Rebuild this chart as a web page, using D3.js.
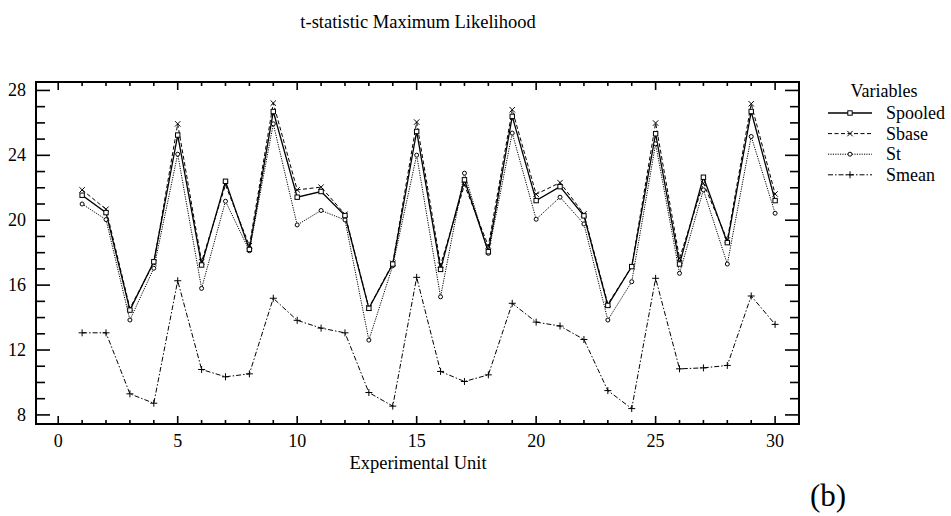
<!DOCTYPE html>
<html><head><meta charset="utf-8">
<script src="https://cdn.jsdelivr.net/npm/d3@7"></script>
<style>
html,body{margin:0;padding:0;background:#fff;}
</style></head>
<body><svg id="c" width="951" height="516"></svg>
<script>
const units = d3.range(1, 31);
const spooled = [21.54, 20.47, 14.46, 17.44, 25.25, 17.24, 22.4, 18.2, 26.7, 21.42, 21.77, 20.29, 14.57, 17.3, 25.47, 16.97, 22.49, 18.06, 26.4, 21.21, 22.07, 20.27, 14.75, 17.14, 25.33, 17.3, 22.65, 18.62, 26.7, 21.21];
const sbase = [21.87, 20.68, 14.57, 17.35, 25.94, 17.44, 22.18, 18.43, 27.22, 21.87, 22.04, 20.37, 14.6, 17.35, 26.05, 17.24, 22.18, 18.41, 26.81, 21.6, 22.32, 20.39, 14.83, 17.14, 25.99, 17.65, 22.28, 18.78, 27.18, 21.62];
const st = [21.0, 20.04, 13.85, 17.04, 24.07, 15.8, 21.17, 18.12, 25.94, 19.71, 20.6, 20.02, 12.61, 17.2, 24.01, 15.28, 22.9, 17.96, 25.37, 20.06, 21.42, 19.77, 13.85, 16.21, 24.71, 16.73, 21.87, 17.3, 25.16, 20.43];
const smean = [13.06, 13.06, 9.30, 8.72, 16.27, 10.8, 10.35, 10.53, 15.19, 13.83, 13.35, 13.06, 9.38, 8.54, 16.48, 10.68, 10.06, 10.47, 14.88, 13.72, 13.48, 12.65, 9.5, 8.39, 16.42, 10.84, 10.90, 11.05, 15.33, 13.58];
const seriesNames = ["Spooled", "Sbase", "St", "Smean"];
const xTicks = [0, 5, 10, 15, 20, 25, 30];
const yTicks = [8, 12, 16, 20, 24, 28];

const title = "t-statistic Maximum Likelihood";
const xLabel = "Experimental Unit";
const legendTitle = "Variables";
const panelLabel = "(b)";

// pick an installed serif font
const candidates = ["Liberation Serif", "Times New Roman", "Tinos", "Times", "DejaVu Serif", "Noto Serif"];
const ctx = document.createElement("canvas").getContext("2d");
function w(f) { ctx.font = "40px " + f; return ctx.measureText("Maximum Likelihood 0123").width; }
let FONT = "serif";
for (const c of candidates) {
  if (w(`"${c}", monospace`) !== w("monospace") || w(`"${c}", sans-serif`) !== w("sans-serif")) { FONT = `"${c}", serif`; break; }
}

const svg = d3.select("#c");
const L = 36, R = 799, T = 82, B = 424;
const x = d3.scaleLinear().domain([-0.93, 31.0]).range([L, R]);
const y = d3.scaleLinear().domain([7.44, 28.52]).range([B, T]);

const styles = {
  Spooled: {dash: null, w: 1.3, marker: "square"},
  Sbase: {dash: "4,2.5", w: 1, marker: "x"},
  St: {dash: "1.2,1.2", w: 1, marker: "circle"},
  Smean: {dash: "5,2,1.5,2", w: 1, marker: "plus"}
};
const data = {Spooled: spooled, Sbase: sbase, St: st, Smean: smean};

function drawMarker(g, type, cx, cy) {
  if (type === "square") {
    g.append("rect").attr("x", cx - 2.2).attr("y", cy - 2.2).attr("width", 4.4).attr("height", 4.4)
      .attr("fill", "#fff").attr("stroke", "#000").attr("stroke-width", 1);
  } else if (type === "x") {
    g.append("path").attr("d", `M${cx-2.7},${cy-2.7}L${cx+2.7},${cy+2.7}M${cx-2.7},${cy+2.7}L${cx+2.7},${cy-2.7}`)
      .attr("stroke", "#000").attr("stroke-width", 1);
  } else if (type === "circle") {
    g.append("circle").attr("cx", cx).attr("cy", cy).attr("r", 2)
      .attr("fill", "#fff").attr("stroke", "#000").attr("stroke-width", 1);
  } else if (type === "plus") {
    g.append("path").attr("d", `M${cx-3.5},${cy}L${cx+3.5},${cy}M${cx},${cy-3.5}L${cx},${cy+3.5}`)
      .attr("stroke", "#000").attr("stroke-width", 1);
  }
}

// series lines
const line = d3.line().x((d, i) => x(units[i])).y(d => y(d));
const gSeries = svg.append("g");
["Smean", "St", "Sbase", "Spooled"].forEach(name => {
  const s = styles[name];
  gSeries.append("path").attr("d", line(data[name])).attr("fill", "none")
    .attr("stroke", "#000").attr("stroke-width", s.w)
    .attr("stroke-dasharray", s.dash);
});
["Smean", "St", "Sbase", "Spooled"].forEach(name => {
  const g = gSeries.append("g");
  data[name].forEach((v, i) => drawMarker(g, styles[name].marker, x(units[i]), y(v)));
});

// frame
svg.append("rect").attr("x", L).attr("y", T).attr("width", R - L).attr("height", B - T)
  .attr("fill", "none").attr("stroke", "#000").attr("stroke-width", 2);

// ticks
const gT = svg.append("g").attr("stroke", "#000").attr("stroke-width", 1.6);
d3.range(0, 31).forEach(v => {
  const major = v % 5 === 0, len = major ? 8 : 4;
  gT.append("line").attr("x1", x(v)).attr("x2", x(v)).attr("y1", B).attr("y2", B - len);
  gT.append("line").attr("x1", x(v)).attr("x2", x(v)).attr("y1", T).attr("y2", T + len);
});
d3.range(8, 29).forEach(v => {
  const major = (v - 8) % 4 === 0, len = major ? 14 : 9;
  gT.append("line").attr("x1", L).attr("x2", L + len).attr("y1", y(v)).attr("y2", y(v));
  gT.append("line").attr("x1", R).attr("x2", R - len).attr("y1", y(v)).attr("y2", y(v));
});

function txt(xp, yp, s, size, anchor) {
  return svg.append("text").attr("x", xp).attr("y", yp).style("font-family", FONT)
    .attr("font-size", size).attr("text-anchor", anchor || "start").attr("fill", "#000").text(s);
}

// tick labels
xTicks.forEach(v => txt(x(v), 447, v, 18, "middle"));
yTicks.forEach(v => txt(26, y(v) + 6, v, 18, "end"));

// title & labels
txt(418, 28, title, 18.5, "middle");
txt(418, 469, xLabel, 18.5, "middle");
txt(828, 506, panelLabel, 31, "middle");

// legend
txt(884, 97, legendTitle, 18, "middle");
seriesNames.forEach((name, i) => {
  const cy = 113 + i * 20.6;
  const s = styles[name];
  svg.append("line").attr("x1", 828).attr("x2", 872).attr("y1", cy).attr("y2", cy)
    .attr("stroke", "#000").attr("stroke-width", s.w).attr("stroke-dasharray", s.dash);
  drawMarker(svg.append("g"), s.marker, 850, cy);
  txt(886, cy + 6, name, 18, "start");
});
</script></body></html>
